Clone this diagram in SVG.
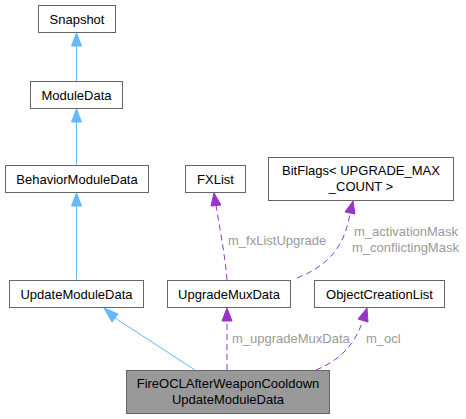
<svg xmlns="http://www.w3.org/2000/svg" width="466" height="419" viewBox="0 0 466 419">
<style>
.n rect{fill:#fff;stroke:#666;stroke-width:1}
.n.main rect{fill:#999}
text{font-family:"Liberation Sans",Arial,sans-serif;font-size:13px;fill:#000}
.n text{text-anchor:middle}
.lbl{fill:#9a9a9a}
.inh{stroke:#63b8ff;fill:none;stroke-width:1}
.use{stroke:#9a32cd;fill:none;stroke-width:1;stroke-dasharray:6,4}
.ah{fill:#63b8ff;stroke:#63b8ff}
.ap{fill:#9a32cd;stroke:#9a32cd}
</style>
<rect width="466" height="419" fill="#fff"/>
<g id="edges">
<path class="inh" d="M76.5,81 V46"/>
<polygon class="ah" points="76.5,33 71.5,46 81.5,46"/>
<path class="inh" d="M76.5,165 V122"/>
<polygon class="ah" points="76.5,109 71.5,122 81.5,122"/>
<path class="inh" d="M76.5,280 V206"/>
<polygon class="ah" points="76.5,193 71.5,206 81.5,206"/>
<path class="inh" d="M195,370 L115,318"/>
<polygon class="ah" points="104,308 112,322 118,314"/>
<path class="use" d="M227,370 V321"/>
<polygon class="ap" points="227,308 222,321 232,321"/>
<path class="use" d="M316,370 C340,360 355,345 363,320"/>
<polygon class="ap" points="367,308 358,319 368,322"/>
<path class="use" d="M227,280 C225,255 220,230 216,205"/>
<polygon class="ap" points="214,193 211,206 221,205"/>
<path class="use" d="M297,278 C330,265 345,245 350,213"/>
<polygon class="ap" points="353,201 345,212 355,214"/>
<text class="lbl" x="232" y="343">m_upgradeMuxData</text>
<text class="lbl" x="366" y="343">m_ocl</text>
<text class="lbl" x="228" y="245">m_fxListUpgrade</text>
<text class="lbl" x="354" y="236">m_activationMask</text>
<text class="lbl" x="352" y="252">m_conflictingMask</text>
</g>
<g id="Snapshot" class="n"><rect x="38.5" y="5.5" width="77" height="27"/><text x="77" y="23.5">Snapshot</text></g>
<g id="ModuleData" class="n"><rect x="30.5" y="81.5" width="92" height="27"/><text x="76.5" y="99.5">ModuleData</text></g>
<g id="BehaviorModuleData" class="n"><rect x="5.5" y="165.5" width="143" height="27"/><text x="77" y="183.5">BehaviorModuleData</text></g>
<g id="UpdateModuleData" class="n"><rect x="9.5" y="280.5" width="134" height="27"/><text x="76.5" y="298.5">UpdateModuleData</text></g>
<g id="UpgradeMuxData" class="n"><rect x="167.5" y="280.5" width="123" height="27"/><text x="229" y="298.5">UpgradeMuxData</text></g>
<g id="ObjectCreationList" class="n"><rect x="314.5" y="280.5" width="130" height="27"/><text x="379.5" y="298.5">ObjectCreationList</text></g>
<g id="FXList" class="n"><rect x="185.5" y="165.5" width="60" height="27"/><text x="215.5" y="183.5">FXList</text></g>
<g id="BitFlags" class="n"><rect x="268.5" y="157.5" width="185" height="43"/><text x="361" y="174.5">BitFlags&lt; UPGRADE_MAX</text><text x="361" y="190.5">_COUNT &gt;</text></g>
<g id="FireOCL" class="n main"><rect x="126.5" y="370.5" width="203" height="43"/><text x="228" y="387.5">FireOCLAfterWeaponCooldown</text><text x="228" y="403.5">UpdateModuleData</text></g>
</svg>
